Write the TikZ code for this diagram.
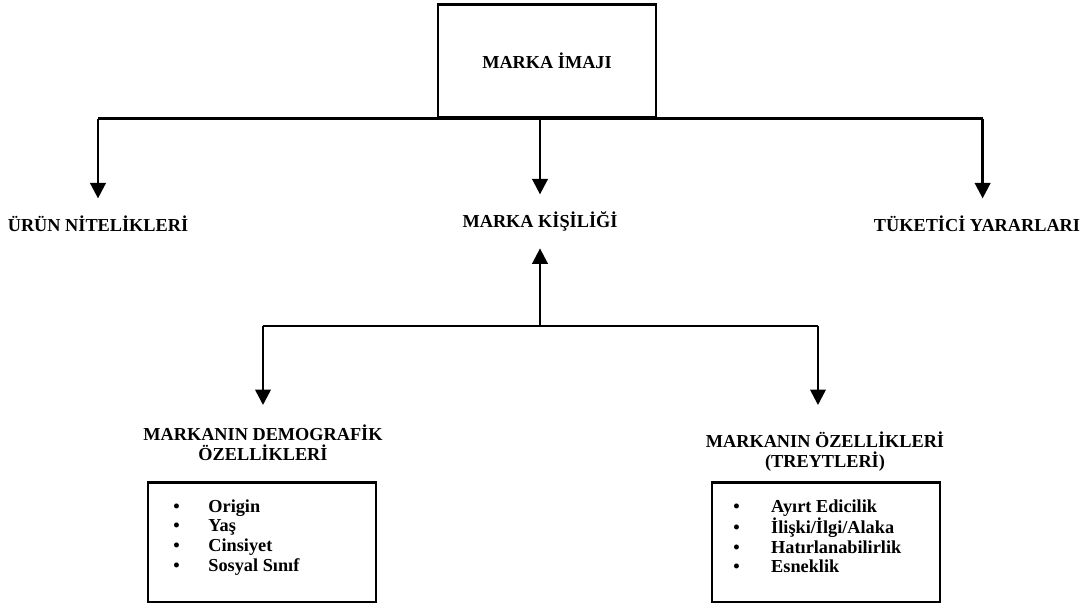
\documentclass[tikz,border=0pt]{standalone}
\usepackage{fontspec}
\setmainfont{Liberation Serif}
\usetikzlibrary{arrows.meta}
\tikzstyle{block} = [rectangle, draw, line width=1.6pt, minimum width=5.45cm, minimum height=2.83cm, font=\fontsize{13}{14}\selectfont\bfseries]
\tikzstyle{heading} = [font=\fontsize{13}{14}\selectfont\bfseries, text height=10pt, text depth=2pt, inner ysep=13pt, inner xsep=0pt, anchor=base]
\tikzstyle{groupname} = [font=\fontsize{13}{14.2}\selectfont\bfseries, align=center, inner xsep=0pt, anchor=north]
\tikzstyle{listbox} = [rectangle, draw, line width=1.6pt, minimum width=5.7cm, minimum height=2.98cm]
\tikzstyle{listtext} = [font=\fontsize{13}{14}\selectfont\bfseries, inner sep=0pt, anchor=base west]
\tikzstyle{line} = [draw, line width=1.8pt]
\tikzstyle{arrow} = [draw, line width=1.8pt, -{Triangle[width=11pt 0,length=11pt 0]}]

\begin{document}
\begin{tikzpicture}[x=0.025cm, y=-0.025cm]
	\useasboundingbox (0,0) rectangle (1085,608);
	\node [block] (imaj) at (547,61) {MARKA İMAJI};
	\node [heading] (urun) at (98,231) {ÜRÜN NİTELİKLERİ};
	\node [heading] (kisilik) at (540,227) {MARKA KİŞİLİĞİ};
	\node [heading] (tuketici) at (977,231) {TÜKETİCİ YARARLARI};
	\node [groupname, inner ysep=14pt] (demohead) at (263,405) {MARKANIN DEMOGRAFİK\\ÖZELLİKLERİ};
	\node [groupname, inner ysep=19pt] (ozhead) at (825,405) {MARKANIN ÖZELLİKLERİ\\(TREYTLERİ)};
	\node [listbox] (demobox) at (262,542) {};
	\node [listbox] (ozbox) at (826,542) {};
	\node [listtext] (demolist) at (173,512) {\begin{tabular}[t]{@{}p{25pt}@{}l@{}}
		\textbullet & Origin\\
		\textbullet & Yaş\\
		\textbullet & Cinsiyet\\
		\textbullet & Sosyal Sınıf
	\end{tabular}};
	\node [listtext] (ozlist) at (733,512) {\begin{tabular}[t]{@{}p{27pt}@{}l@{}}
		\textbullet & Ayırt Edicilik\\
		\textbullet & İlişki/İlgi/Alaka\\
		\textbullet & Hatırlanabilirlik\\
		\textbullet & Esneklik
	\end{tabular}};
	\coordinate (join) at (540,326);
	
	% upper branches
	\path [line] (urun.north |- imaj.south) -- ([xshift=4pt]tuketici.north |- imaj.south);
	\path [arrow] (urun.north |- imaj.south) -- (urun.north);
	\path [arrow] (kisilik.north |- imaj.south) -- (kisilik.north);
	\path [arrow] ([xshift=4pt]tuketici.north |- imaj.south) -- ([xshift=4pt]tuketici.north);
	
	% lower branches
	\path [arrow] (join) -- (kisilik.south);
	\path [line] (join -| demohead.north) -- ([xshift=-5pt]join -| ozhead.north);
	\path [arrow] (join -| demohead.north) -- (demohead.north);
	\path [arrow] ([xshift=-5pt]join -| ozhead.north) -- ([xshift=-5pt]ozhead.north);
\end{tikzpicture}
\end{document}
